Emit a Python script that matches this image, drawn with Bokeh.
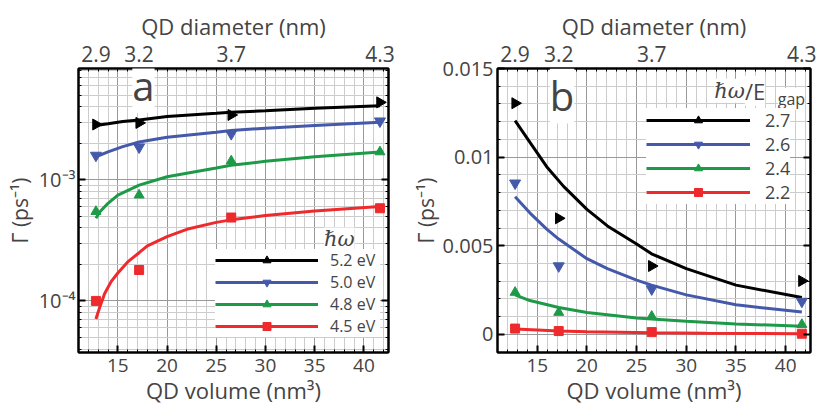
import numpy as np
from bokeh.plotting import figure
from bokeh.layouts import row
from bokeh.models import (LinearAxis, LogAxis, FixedTicker, SingleIntervalTicker,
                          Legend, LegendItem, Label, Range1d)
from bokeh.embed import file_html
from bokeh.resources import INLINE

FONT = "Open Sans"
SERIF = "DejaVu Serif"

# ---------------- data ----------------
volume = [12.77, 17.16, 26.52, 41.63]          # QD volume (nm^3) of the four dots
diameter_labels = ["2.9", "3.2", "3.7", "4.3"]  # QD diameter (nm)
unit_ticks = list(range(11, 43))               # minor ticks every 1 nm^3

# panel a (log scale), photon energies
a_labels = ["5.2 eV", "5.0 eV", "4.8 eV", "4.5 eV"]
a_pts_52 = [2.86e-3, 2.95e-3, 3.43e-3, 4.36e-3]
a_pts_50 = [1.59e-3, 1.86e-3, 2.40e-3, 3.05e-3]
a_pts_48 = [5.47e-4, 7.48e-4, 1.43e-3, 1.70e-3]
a_pts_45 = [1.00e-4, 1.80e-4, 4.88e-4, 5.82e-4]

a_fit_x_52 = [12.77, 14.0, 15.5, 17.16, 20.0, 25.0, 26.5, 30.0, 35.0, 41.63]
a_fit_y_52 = [2.81e-3, 2.90e-3, 3.03e-3, 3.12e-3, 3.33e-3, 3.54e-3, 3.61e-3, 3.72e-3, 3.89e-3, 4.09e-3]
a_fit_x_50 = [12.77, 14.0, 15.5, 17.16, 20.0, 25.0, 26.5, 30.0, 35.0, 41.63]
a_fit_y_50 = [1.55e-3, 1.70e-3, 1.88e-3, 2.05e-3, 2.25e-3, 2.47e-3, 2.55e-3, 2.67e-3, 2.81e-3, 2.99e-3]
a_fit_x_48 = [12.77, 13.2, 14.0, 15.0, 17.16, 20.0, 25.0, 26.5, 30.0, 35.0, 41.63]
a_fit_y_48 = [4.82e-4, 5.47e-4, 6.40e-4, 7.48e-4, 9.04e-4, 1.06e-3, 1.25e-3, 1.32e-3, 1.42e-3, 1.55e-3, 1.70e-3]
a_fit_x_45 = [12.77, 13.15, 13.66, 14.33, 15.0, 16.0, 17.16, 18.0, 20.0, 22.0, 25.0, 26.5, 30.0, 35.0, 41.63]
a_fit_y_45 = [7.08e-5, 8.82e-5, 1.15e-4, 1.45e-4, 1.70e-4, 2.10e-4, 2.50e-4, 2.85e-4, 3.40e-4, 3.90e-4, 4.45e-4, 4.67e-4, 5.07e-4, 5.53e-4, 6.01e-4]

# panel b (linear scale), hw/Egap
b_labels = ["2.7", "2.6", "2.4", "2.2"]
b_pts_27 = [13.04e-3, 6.55e-3, 3.86e-3, 3.02e-3]
b_pts_26 = [8.53e-3, 3.86e-3, 2.56e-3, 1.86e-3]
b_pts_24 = [2.37e-3, 1.24e-3, 1.02e-3, 0.56e-3]
b_pts_22 = [0.33e-3, 0.19e-3, 0.13e-3, 0.04e-3]

b_fit_x_27 = [12.77, 14.25, 15.95, 17.65, 20.0, 22.06, 25.0, 26.5, 30.0, 35.0, 41.63]
b_fit_y_27 = [12.06e-3, 10.85e-3, 9.46e-3, 8.35e-3, 7.05e-3, 6.12e-3, 5.10e-3, 4.55e-3, 3.71e-3, 2.78e-3, 2.08e-3]
b_fit_x_26 = [12.77, 14.25, 15.95, 17.16, 20.0, 22.06, 25.0, 26.5, 30.0, 35.0, 41.63]
b_fit_y_26 = [7.76e-3, 6.86e-3, 5.94e-3, 5.38e-3, 4.27e-3, 3.71e-3, 3.06e-3, 2.78e-3, 2.23e-3, 1.67e-3, 1.26e-3]
b_fit_x_24 = [12.77, 14.25, 17.16, 20.0, 25.0, 26.5, 30.0, 35.0, 41.63]
b_fit_y_24 = [2.23e-3, 1.91e-3, 1.52e-3, 1.24e-3, 0.93e-3, 0.87e-3, 0.74e-3, 0.59e-3, 0.46e-3]
b_fit_x_22 = [12.77, 15.0, 17.16, 20.0, 26.5, 32.0, 41.63]
b_fit_y_22 = [0.31e-3, 0.25e-3, 0.19e-3, 0.15e-3, 0.10e-3, 0.07e-3, 0.04e-3]

a_log_major = [1e-4, 1e-3]
a_log_labels = ["10⁻⁴", "10⁻³"]
a_log_minor = [m * d for d in (1e-5, 1e-4, 1e-3) for m in range(2, 10)]
b_major = [0.0, 0.005, 0.01, 0.015]
b_major_labels = ["0", "0.005", "0.01", "0.015"]
b_minor = [k / 1000 for k in range(-1, 16)]

COLORS = ["#000000", "#4459a9", "#1d9a48", "#ee2a2c"]
MARKERS = ["triangle", "inverted_triangle", "triangle", "square"]
ANGLES = [-np.pi / 2, 0.0, 0.0, 0.0]
SIZES = [11, 11, 10, 9]


def style_axis(ax, label_size="20px"):
    ax.axis_line_width = 2
    ax.axis_line_color = "black"
    ax.major_tick_in = 7
    ax.major_tick_out = 0
    ax.major_tick_line_width = 2
    ax.minor_tick_in = 3
    ax.minor_tick_out = 0
    ax.minor_tick_line_width = 1
    ax.major_label_text_font = FONT
    ax.major_label_text_font_size = label_size
    ax.axis_label_text_font = FONT
    ax.axis_label_text_font_style = "normal"
    ax.axis_label_text_font_size = "22px"


def make_fig(y_log, y_range, width, borders):
    p = figure(width=width, height=408,
               x_range=Range1d(11.0, 42.5), y_range=y_range,
               y_axis_type="log" if y_log else "linear",
               output_backend="svg", toolbar_location=None,
               min_border_left=borders[0], min_border_right=borders[1],
               min_border_top=borders[2], min_border_bottom=borders[3],
               background_fill_color="white", border_fill_color="white")
    p.outline_line_color = "black"
    p.outline_line_width = 2
    p.xaxis.ticker = SingleIntervalTicker(interval=5, num_minor_ticks=5)
    style_axis(p.xaxis[0], "19px")
    p.xaxis.axis_label = "QD volume (nm³)"
    p.xaxis.major_label_standoff = 6
    p.xaxis.axis_label_standoff = 0

    # diameter labels + mirrored unit ticks on the top
    top = LinearAxis(ticker=FixedTicker(ticks=volume, minor_ticks=unit_ticks),
                     major_label_overrides=dict(zip(volume, diameter_labels)))
    style_axis(top, "21px")
    top.major_tick_in = 0
    top.major_label_standoff = 7
    top.axis_label = "QD diameter (nm)"
    top.axis_label_standoff = 2
    p.add_layout(top, "above")

    p.xgrid.grid_line_color = "#999999"
    p.xgrid.minor_grid_line_color = "#cccccc"
    p.ygrid.grid_line_color = "#999999"
    p.ygrid.minor_grid_line_color = "#cccccc"
    return p


def add_series(p, fit_x, fit_y, pts, i):
    lr = p.line(fit_x, fit_y, line_color=COLORS[i], line_width=3)
    sr = p.scatter(volume, pts, marker=MARKERS[i], angle=ANGLES[i], size=SIZES[i],
                   fill_color=COLORS[i], line_color=COLORS[i])
    return lr, sr


# ---------------- panel a ----------------
pa = make_fig(True, Range1d(3.75e-5, 8.3e-3), 402, (78, 14, 66, 56))
pa.yaxis.ticker = FixedTicker(ticks=a_log_major, minor_ticks=a_log_minor)
style_axis(pa.yaxis[0], "20px")
pa.yaxis.major_label_overrides = dict(zip(a_log_major, a_log_labels))
pa.yaxis.axis_label = "Γ (ps⁻¹)"
pa.yaxis.axis_label_text_font_size = "21px"
pa.yaxis.major_label_standoff = 3
pa.yaxis.axis_label_standoff = 2
ra = LogAxis(ticker=FixedTicker(ticks=a_log_major, minor_ticks=a_log_minor),
             major_label_overrides=dict(zip(a_log_major, ["", ""])))
style_axis(ra, "4px")
ra.major_label_standoff = 0
pa.add_layout(ra, "right")

a_series = [(a_fit_x_52, a_fit_y_52, a_pts_52), (a_fit_x_50, a_fit_y_50, a_pts_50),
            (a_fit_x_48, a_fit_y_48, a_pts_48), (a_fit_x_45, a_fit_y_45, a_pts_45)]
items_a = []
for i, (fx, fy, pts) in enumerate(a_series):
    lr, sr = add_series(pa, fx, fy, pts, i)
    items_a.append(LegendItem(label=a_labels[i], renderers=[lr, sr]))

leg_a = Legend(items=items_a, location=(137, 15), background_fill_color="white",
               background_fill_alpha=1.0, border_line_color=None, padding=0, margin=0,
               spacing=0, glyph_width=103, glyph_height=20, label_height=20,
               label_standoff=12, label_width=50, level="glyph",
               label_text_font=FONT, label_text_font_size="16px")
pa.add_layout(leg_a)
pa.add_layout(Label(x=37.5, y=3.22e-4, text="ℏω", text_font=SERIF, text_font_style="italic",
                    text_font_size="21px", text_align="center", text_baseline="middle",
                    background_fill_color="white", level="overlay"))
pa.add_layout(Label(x=17.6, y=6.0e-3, text="a", text_font=FONT, text_font_size="40px",
                    text_align="center", text_baseline="middle",
                    background_fill_color="white", level="overlay"))

# ---------------- panel b ----------------
pb = make_fig(False, Range1d(-0.00102, 0.015), 415, (95, 7, 68, 55))
pb.yaxis.ticker = FixedTicker(ticks=b_major, minor_ticks=b_minor)
style_axis(pb.yaxis[0], "20px")
pb.yaxis.major_label_overrides = dict(zip(b_major, b_major_labels))
pb.yaxis.axis_label = "Γ (ps⁻¹)"
pb.yaxis.axis_label_text_font_size = "21px"
pb.yaxis.major_label_standoff = 4
pb.yaxis.axis_label_standoff = 0
rb = LinearAxis(ticker=FixedTicker(ticks=b_major, minor_ticks=b_minor),
                major_label_overrides=dict(zip(b_major, ["", "", "", ""])))
style_axis(rb, "4px")
rb.major_label_standoff = 0
pb.add_layout(rb, "right")

b_series = [(b_fit_x_27, b_fit_y_27, b_pts_27), (b_fit_x_26, b_fit_y_26, b_pts_26),
            (b_fit_x_24, b_fit_y_24, b_pts_24), (b_fit_x_22, b_fit_y_22, b_pts_22)]
items_b = []
for i, (fx, fy, pts) in enumerate(b_series):
    lr, sr = add_series(pb, fx, fy, pts, i)
    items_b.append(LegendItem(label=b_labels[i], renderers=[lr, sr]))

leg_b = Legend(items=items_b, location=(149, 148), background_fill_color="white",
               background_fill_alpha=1.0, border_line_color=None, padding=0, margin=0,
               spacing=0, glyph_width=104, glyph_height=20, label_height=20,
               label_standoff=15, label_width=25, level="glyph",
               label_text_font=FONT, label_text_font_size="18px")
pb.add_layout(leg_b)
pb.add_layout(Label(x=35.9, y=13.75e-3, text="ℏω", text_font=SERIF, text_font_style="italic",
                    text_font_size="21px", text_align="right", text_baseline="middle",
                    background_fill_color="white", level="overlay"))
pb.add_layout(Label(x=35.9, y=13.75e-3, text="/E", text_font=FONT,
                    text_font_size="22px", text_align="left", text_baseline="middle",
                    background_fill_color="white", level="overlay"))
pb.add_layout(Label(x=39.2, y=13.3e-3, text="gap", text_font=FONT,
                    text_font_size="16px", text_align="left", text_baseline="middle",
                    background_fill_color="white", level="overlay"))
pb.add_layout(Label(x=17.5, y=13.45e-3, text="b", text_font=FONT, text_font_size="40px",
                    text_align="center", text_baseline="middle",
                    background_fill_color="white", level="overlay"))

layout = row(pa, pb)
open("out.html", "w").write(file_html(layout, INLINE))
